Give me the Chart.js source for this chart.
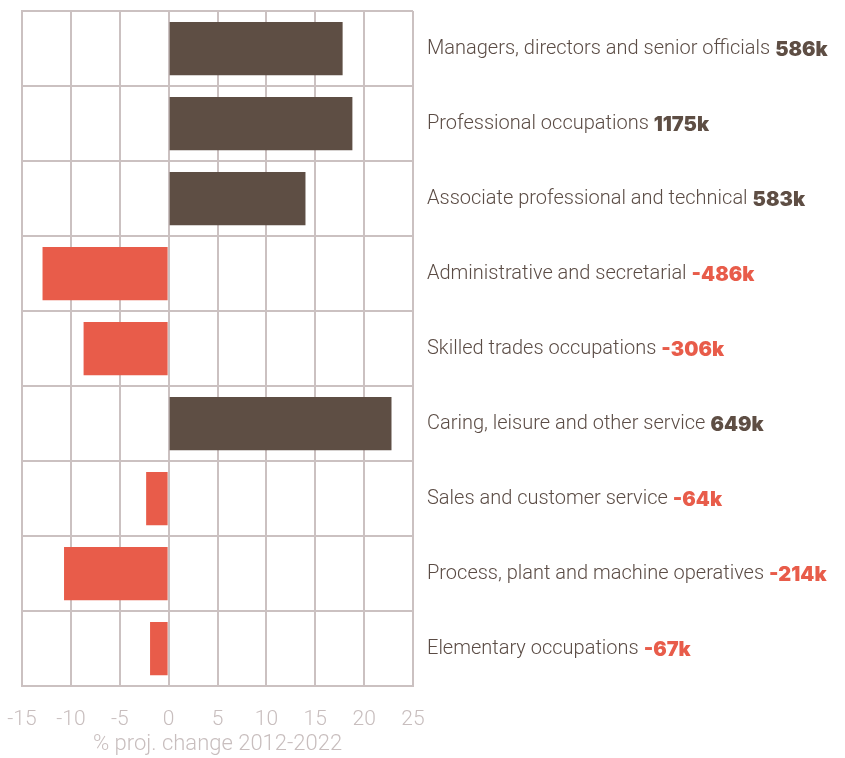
<!DOCTYPE html>
<html>
<head>
<meta charset="utf-8">
<script src="https://cdn.jsdelivr.net/npm/chart.js@4"></script>
<style>
  html, body { margin: 0; padding: 0; background: #fff; }
  #wrap { width: 845px; height: 758px; }
</style>
</head>
<body>
<div id="wrap"><canvas id="occChart"></canvas></div>
<script>
const categories = [
    'Managers, directors and senior officials',
    'Professional occupations',
    'Associate professional and technical',
    'Administrative and secretarial',
    'Skilled trades occupations',
    'Caring, leisure and other service',
    'Sales and customer service',
    'Process, plant and machine operatives',
    'Elementary occupations'
];
const pctChange = [17.8, 18.8, 14.0, -12.9, -8.7, 22.8, -2.3, -10.7, -1.9];
const jobsChange = ['586k', '1175k', '583k', '-486k', '-306k', '649k', '-64k', '-214k', '-67k'];
const xTicks = [-15, -10, -5, 0, 5, 10, 15, 20, 25];

const brown = '#5e4e44';
const red = '#e85c4a';
const gridColor = '#cbc1c1';
const fontFamily = 'Roboto, "Liberation Sans", sans-serif';

const barColors = pctChange.map(v => v >= 0 ? brown : red);

// draws the category name + bold jobs figure to the right of the plot
const rightLabels = {
    id: 'rightLabels',
    afterDraw(chart) {
        const ctx = chart.ctx;
        const yScale = chart.scales.y;
        const x0 = chart.chartArea.right + 14;
        ctx.save();
        ctx.textBaseline = 'middle';
        categories.forEach((name, i) => {
            const y = yScale.getPixelForValue(i);
            ctx.font = '300 20px ' + fontFamily;
            ctx.fillStyle = '#5b4c45';
            ctx.fillText(name, x0, y);
            const w = ctx.measureText(name).width;
            ctx.font = '900 20px Inter, "DejaVu Sans", sans-serif';
            ctx.fillStyle = pctChange[i] >= 0 ? brown : red;
            ctx.fillText(jobsChange[i], x0 + w + 5, y + 1);
        });
        ctx.restore();
    }
};

new Chart(document.getElementById('occChart'), {
    type: 'bar',
    data: {
        labels: categories,
        datasets: [{
            data: pctChange,
            backgroundColor: barColors,
            borderWidth: 0,
            barPercentage: 0.71,
            categoryPercentage: 1
        }]
    },
    options: {
        indexAxis: 'y',
        responsive: true,
        maintainAspectRatio: false,
        animation: false,
        layout: {
            padding: { left: 22, top: 11, right: 432, bottom: 0 }
        },
        plugins: {
            legend: { display: false },
            tooltip: { enabled: false }
        },
        scales: {
            x: {
                min: -15,
                max: 25,
                afterBuildTicks: axis => { axis.ticks = xTicks.map(v => ({ value: v })); },
                afterFit: axis => {
                    axis.height = 72;
                    axis.paddingLeft = 0;
                    axis.paddingRight = 0;
                },
                grid: { color: gridColor, lineWidth: 2, drawTicks: false },
                border: { color: gridColor, width: 2 },
                ticks: {
                    color: '#c8bebe',
                    padding: 21,
                    maxRotation: 0,
                    font: { family: fontFamily, size: 21, weight: '300' }
                },
                title: {
                    display: true,
                    text: '% proj. change 2012-2022',
                    color: '#c8bebe',
                    padding: { top: 0, bottom: 0 },
                    font: { family: fontFamily, size: 22, weight: '300' }
                }
            },
            y: {
                afterFit: axis => { axis.width = 0; },
                grid: { color: gridColor, lineWidth: 2, drawTicks: false, offset: true },
                border: { color: gridColor, width: 2 },
                ticks: { display: false }
            }
        }
    },
    plugins: [rightLabels]
});
</script>
</body>
</html>
